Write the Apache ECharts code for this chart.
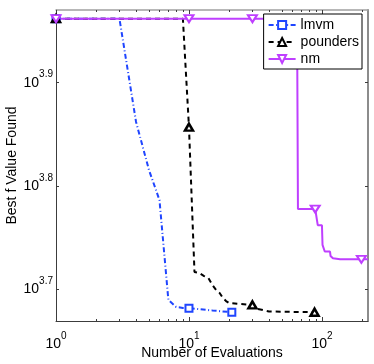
<!DOCTYPE html>
<html>
<head>
<meta charset="utf-8">
<script src="https://cdn.jsdelivr.net/npm/echarts@6/dist/echarts.min.js"></script>
<style>
html, body { margin: 0; padding: 0; background: #fff; }
#main { width: 374px; height: 364px; }
</style>
</head>
<body>
<div id="main"></div>
<script>
// evaluations and best f values
var lmvmEvals = [1, 3, 4, 5, 6, 7, 8, 9, 10, 15, 21];
var lmvmBest = [9162, 9162, 7278, 6540, 6115, 4894, 4819, 4808, 4805, 4781, 4762];
var lmvmMarks = [1, 10, 21];

var poundersEvals = [1, 9, 10, 11, 12, 13, 14, 15, 16, 17, 18, 19, 20, 30, 33, 40, 88];
var poundersBest = [9162, 9162, 7194, 5209, 5197, 5162, 5140, 5060, 5004, 4971, 4915, 4882, 4861, 4840, 4797, 4770, 4762];
var poundersMarks = [1, 10, 30, 88];

var nmEvals = [1, 10, 30, 65, 66, 89, 92, 93, 100, 101, 104, 105, 115, 116, 120, 121, 137, 198, 222];
var nmBest = [9162, 9162, 9162, 9162, 5994, 5994, 5994, 5782, 5782, 5534, 5534, 5452, 5452, 5399, 5399, 5370, 5358, 5358, 5358];
var nmMarks = [1, 10, 30, 89, 198];

var xTickExps = [0, 1, 2];
var xMinorTicks = [2, 3, 4, 5, 6, 7, 8, 9, 20, 30, 40, 50, 60, 70, 80, 90, 200];
var yTickExps = [3.7, 3.8, 3.9];

var xMin = 1, xMax = 222;
var yMin = Math.pow(10, 3.6693), yMax = Math.pow(10, 3.9704);

var font = "'Liberation Sans', Arial, Helvetica, sans-serif";
var dark = '#3c3c3c';
var blue = '#1f45ff';
var purple = '#bf3fff';

var xTicks = xTickExps.map(function(e) { return Math.pow(10, e); });
var yTicks = yTickExps.map(function(e) { return Math.pow(10, e); });

function buildData(evals, best, marks) {
    return evals.map(function(n, i) {
        var item = { value: [n, best[i]] };
        if (marks.indexOf(n) < 0) item.symbol = 'none';
        return item;
    });
}

var rich = {
    b: { fontSize: 14, lineHeight: 26, fontFamily: font, color: '#000' },
    s: { fontSize: 10, lineHeight: 10, verticalAlign: 'top', fontFamily: font, color: '#000' }
};

function xAxisCfg(pos, ticks, len, lineShow, lineColor, lineWidth) {
    return {
        type: 'log', logBase: 10, min: xMin, max: xMax, position: pos,
        axisLine: { show: lineShow, onZero: false, lineStyle: { color: lineColor, width: lineWidth } },
        axisTick: { show: true, inside: true, length: len, customValues: ticks, lineStyle: { color: dark } },
        axisLabel: { show: false },
        splitLine: { show: false }
    };
}

var chart = echarts.init(document.getElementById('main'));

var option = {
    animation: false,
    backgroundColor: '#fff',
    grid: { left: 56, top: 10, right: 6, bottom: 43, outerBoundsMode: 'none' },
    legend: {
        orient: 'vertical',
        right: 12,
        top: 14,
        itemWidth: 27,
        itemHeight: 10,
        itemGap: 3,
        padding: [4, 3, 3, 4],
        backgroundColor: '#fff',
        borderColor: '#000',
        borderWidth: 1,
        borderRadius: 0,
        textStyle: { fontSize: 14, color: '#000', fontFamily: font },
        data: ['lmvm', 'pounders', 'nm']
    },
    xAxis: [
        {
            type: 'log', logBase: 10, min: xMin, max: xMax, position: 'bottom',
            axisLine: { show: true, onZero: false, lineStyle: { color: dark, width: 1 } },
            axisTick: { show: true, inside: true, length: 4, customValues: xTicks, lineStyle: { color: dark } },
            axisLabel: {
                customValues: xTicks,
                margin: 10,
                formatter: function(v) {
                    return '{b|10}{s|' + Math.round(Math.log10(v)) + '}';
                },
                rich: rich
            },
            splitLine: { show: false },
            name: 'Number of Evaluations',
            nameLocation: 'middle',
            nameGap: 25,
            nameMoveOverlap: false,
            nameTextStyle: { fontSize: 14, color: '#000', fontFamily: font }
        },
        xAxisCfg('bottom', xMinorTicks, 2, false, dark, 1),
        xAxisCfg('top', xTicks, 4, true, '#a0a0a0', 1.5),
        xAxisCfg('top', xMinorTicks, 2, false, '#a0a0a0', 1)
    ],
    yAxis: [
        {
            type: 'log', logBase: 10, min: yMin, max: yMax, position: 'left',
            axisLine: { show: true, onZero: false, lineStyle: { color: dark, width: 1 } },
            axisTick: { show: true, inside: true, length: 3, customValues: yTicks, lineStyle: { color: dark } },
            axisLabel: {
                customValues: yTicks,
                margin: 3,
                formatter: function(v) {
                    return '{b|10}{s|' + Math.log10(v).toFixed(1) + '}';
                },
                rich: rich
            },
            splitLine: { show: false },
            name: 'Best f Value Found',
            nameLocation: 'middle',
            nameGap: 37,
            nameMoveOverlap: false,
            nameTextStyle: { fontSize: 14, color: '#000', fontFamily: font }
        },
        {
            type: 'log', logBase: 10, min: yMin, max: yMax, position: 'right',
            axisLine: { show: true, onZero: false, lineStyle: { color: '#8c8c8c', width: 2 } },
            axisTick: { show: true, inside: true, length: 3, customValues: yTicks, lineStyle: { color: dark } },
            axisLabel: { show: false },
            splitLine: { show: false }
        }
    ],
    series: [
        {
            name: 'lmvm',
            type: 'line',
            data: buildData(lmvmEvals, lmvmBest, lmvmMarks),
            symbol: 'rect',
            symbolSize: 7,
            showAllSymbol: true,
            lineStyle: { color: blue, width: 2, type: [5, 2.5, 1, 2.5] },
            itemStyle: { color: '#fff', borderColor: blue, borderWidth: 2 },
            emphasis: { disabled: true }
        },
        {
            name: 'pounders',
            type: 'line',
            data: buildData(poundersEvals, poundersBest, poundersMarks),
            symbol: 'triangle',
            symbolSize: [8, 7],
            showAllSymbol: true,
            lineStyle: { color: '#000', width: 2, type: [5, 4] },
            itemStyle: { color: '#fff', borderColor: '#000', borderWidth: 2.5 },
            emphasis: { disabled: true }
        },
        {
            name: 'nm',
            type: 'line',
            data: buildData(nmEvals, nmBest, nmMarks),
            symbol: 'triangle',
            symbolRotate: 180,
            symbolSize: [9, 7],
            showAllSymbol: true,
            lineStyle: { color: purple, width: 2 },
            itemStyle: { color: '#fff', borderColor: purple, borderWidth: 2 },
            emphasis: { disabled: true }
        }
    ]
};

chart.setOption(option);
</script>
</body>
</html>
